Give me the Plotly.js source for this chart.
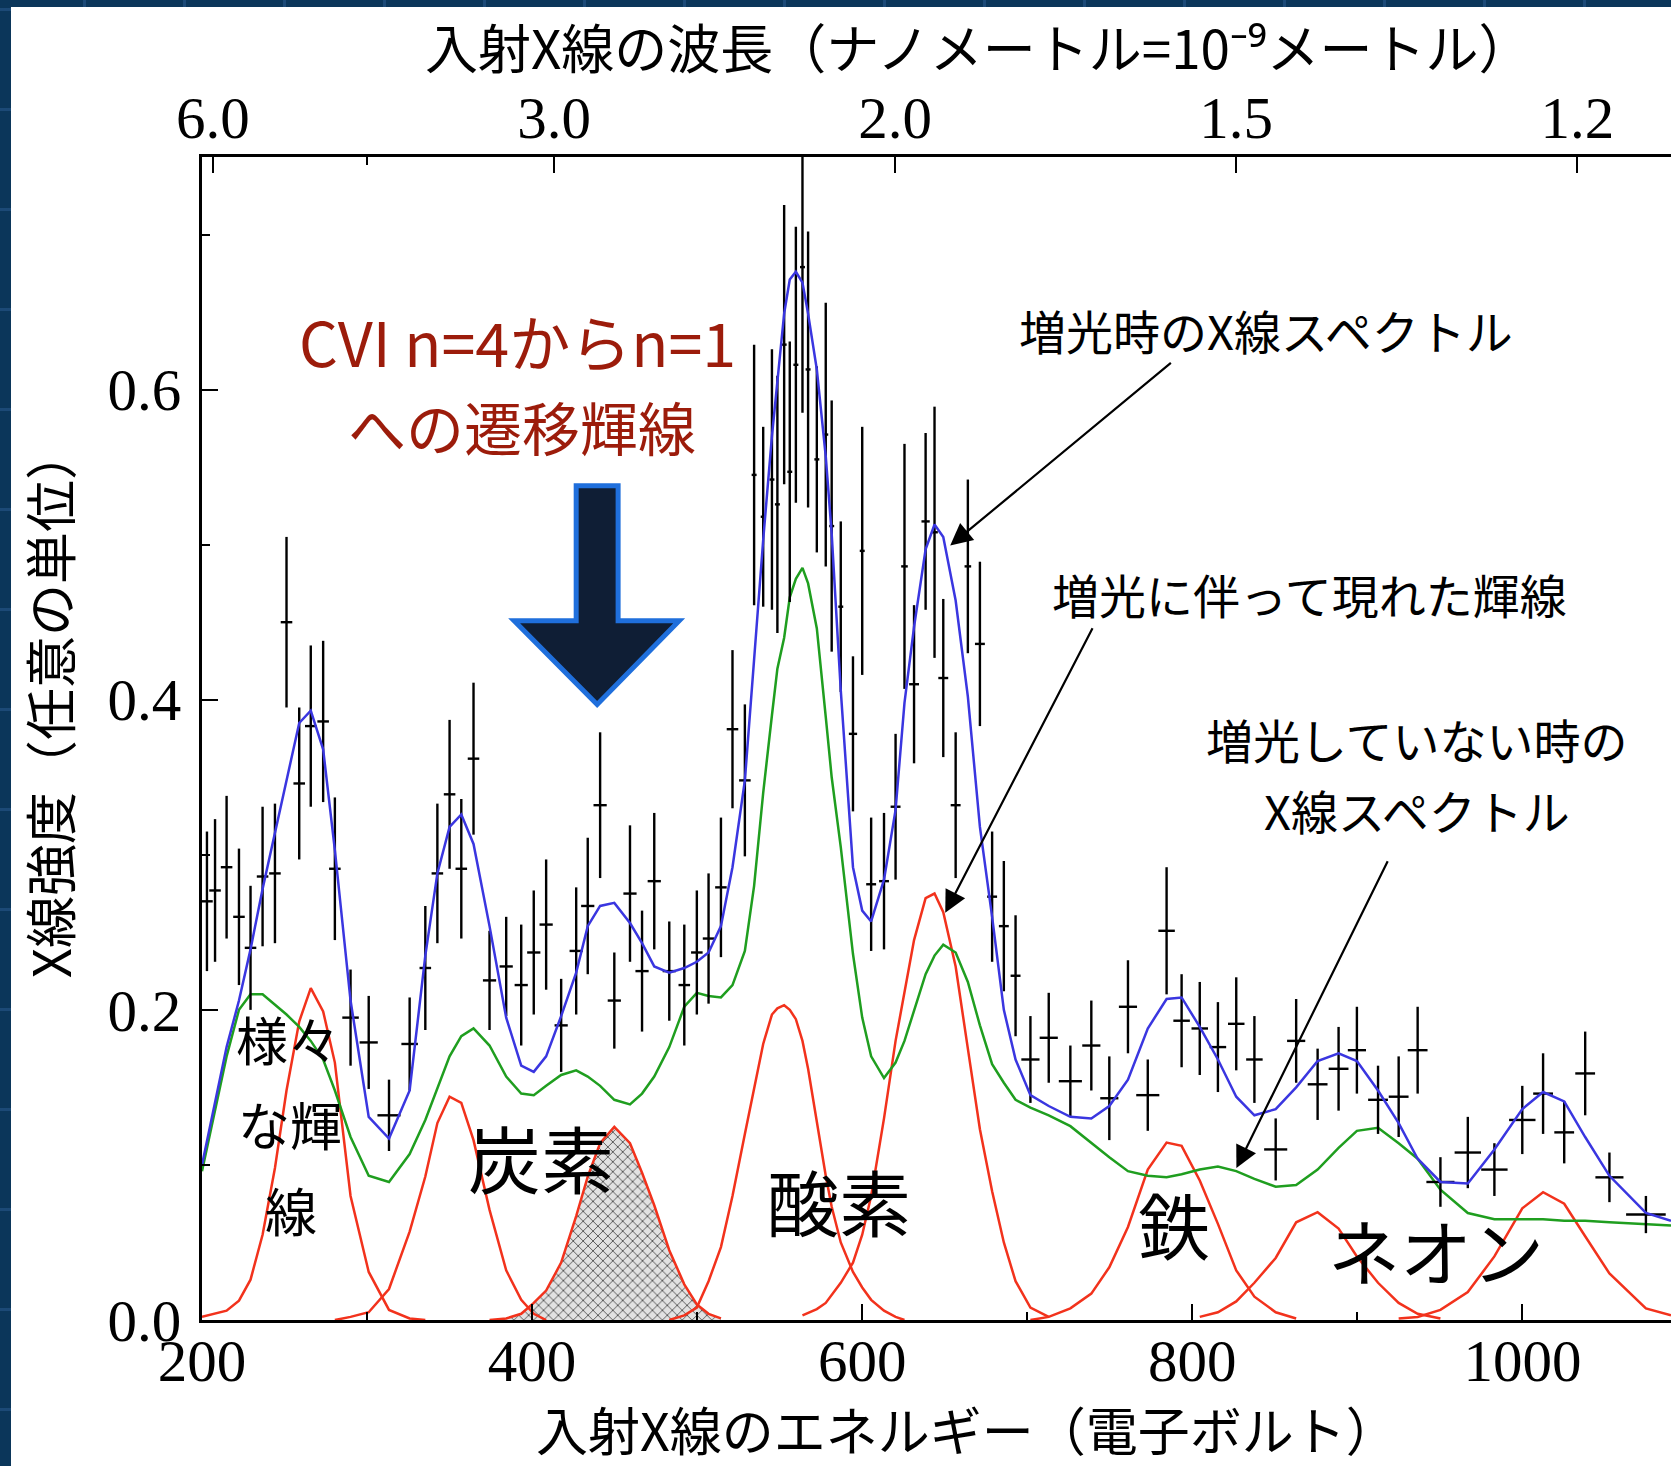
<!DOCTYPE html>
<html>
<head>
<meta charset="utf-8">
<script src="https://cdn.plot.ly/plotly-3.0.1.min.js"></script>
<style>
html,body{margin:0;padding:0;width:1671px;height:1466px;overflow:hidden;
  background-color:#0b365a;
  background-image:linear-gradient(to right, rgba(60,110,170,0.35) 3px, transparent 3px),
                   linear-gradient(to bottom, rgba(60,110,170,0.35) 3px, transparent 3px);
  background-size:100px 100px;background-position:83px 8px;}
#chart{position:absolute;left:11px;top:7px;width:1660px;height:1459px;background:#fff;}
</style>
</head>
<body>
<div id="chart"></div>
<script>
// ---------- observed flare spectrum (energy in eV, intensity arb. units) ----------
const dataE = [203.0,207.9,214.9,222.4,229.4,236.7,244.2,251.2,258.9,265.9,
  273.4,280.5,290.0,301.0,313.3,325.8,335.3,342.6,350.0,357.1,
  364.5,374.2,384.3,393.4,401.0,408.5,417.6,426.7,433.7,441.2,
  449.8,459.3,466.6,474.0,483.1,492.2,499.8,506.9,514.4,521.4,
  528.9,534.5,540.0,545.3,548.6,552.7,556.1,559.8,563.8,567.2,
  572.5,577.9,581.5,587.0,594.4,600.0,605.4,613.2,620.2,625.6,
  631.4,638.4,643.8,649.1,656.6,664.0,671.3,678.7,685.8,692.9,
  701.9,713.0,726.1,738.8,749.7,761.0,773.0,784.4,793.5,804.5,
  815.5,826.6,837.6,850.5,862.9,875.9,888.6,899.7,912.5,925.0,
  936.5,950.3,966.9,983.0,999.9,1012.5,1025.3,1038.0,1052.7,1074.8];
const dataY = [0.270,0.277,0.292,0.260,0.240,0.286,0.288,0.450,0.346,0.383,
  0.386,0.291,0.195,0.179,0.132,0.178,0.227,0.288,0.339,0.291,
  0.362,0.219,0.228,0.216,0.237,0.255,0.190,0.238,0.267,0.332,
  0.206,0.275,0.225,0.283,0.225,0.216,0.237,0.246,0.279,0.381,
  0.348,0.545,0.518,0.542,0.526,0.629,0.547,0.616,0.679,0.613,
  0.555,0.571,0.512,0.460,0.378,0.496,0.281,0.283,0.331,0.486,
  0.410,0.515,0.508,0.414,0.332,0.486,0.436,0.273,0.254,0.222,
  0.168,0.182,0.154,0.177,0.143,0.202,0.145,0.251,0.193,0.188,
  0.176,0.191,0.168,0.110,0.180,0.152,0.162,0.174,0.142,0.144,
  0.174,0.089,0.108,0.097,0.129,0.146,0.121,0.159,0.092,0.068];
const dataErr = [0.045,0.046,0.046,0.044,0.040,0.045,0.045,0.055,0.049,0.052,
  0.052,0.046,0.031,0.030,0.023,0.030,0.040,0.045,0.048,0.045,
  0.049,0.032,0.032,0.039,0.040,0.042,0.030,0.041,0.044,0.047,
  0.031,0.044,0.039,0.044,0.032,0.039,0.040,0.042,0.045,0.051,
  0.049,0.084,0.058,0.084,0.083,0.090,0.084,0.089,0.094,0.089,
  0.060,0.085,0.081,0.055,0.050,0.080,0.043,0.044,0.047,0.079,
  0.051,0.057,0.081,0.051,0.047,0.056,0.053,0.042,0.042,0.039,
  0.028,0.029,0.023,0.029,0.027,0.030,0.023,0.041,0.030,0.030,
  0.029,0.030,0.028,0.020,0.027,0.023,0.027,0.028,0.022,0.026,
  0.028,0.016,0.023,0.017,0.022,0.026,0.020,0.027,0.016,0.012];
const binHalf = [3.5,3.5,3.5,3.5,3.5,3.5,3.5,3.5,3.5,3.5,
  3.5,3.5,5,5.5,7,5,3.5,3.5,3.5,3.5,
  3.5,4,4,4,4,4,4,4,4,4,
  4,4,4,4,4,3.5,3.5,3.5,3.5,3.5,
  3.5,1.5,1.5,1.5,1.5,1.5,1.5,1.5,1.5,1.5,
  1.5,1.5,1.5,1.5,2.5,1.5,3,3,3,2,
  3,2.5,2,3,3,2,3,3,3,3,
  5.5,5.5,7,5.5,5.5,5.5,7,5,5,5,
  5,5,5,7,5.5,6,6,5.5,6,6,
  6,8.5,8,8,8,6,6,6,8.5,12];

// ---------- model curves ----------
const modelE = [200,207.9,214.9,222.4,229.4,236.7,244.2,251.2,258.9,265.9,
  273.4,280.5,290.0,301.0,313.3,325.8,335.3,342.6,350.0,357.1,
  364.5,374.2,384.3,393.4,401.0,408.5,417.6,426.7,433.7,441.2,
  449.8,459.3,466.6,474.0,483.1,492.2,499.8,506.9,514.4,521.4,
  528.9,534.5,540.0,545.3,548.6,552.7,556.1,559.8,563.8,567.2,
  572.5,577.9,581.5,587.0,594.4,600.0,605.4,613.2,620.2,625.6,
  631.4,638.4,643.8,649.1,656.6,664.0,671.3,678.7,685.8,692.9,
  701.9,713.0,726.1,738.8,749.7,761.0,773.0,784.4,793.5,804.5,
  815.5,826.6,837.6,850.5,862.9,875.9,888.6,899.7,912.5,925.0,
  936.5,950.3,966.9,983.0,999.9,1012.5,1025.3,1038.0,1052.7,1074.8,1090];
// flare-time total model (blue)
const flareModel = [0.100,0.140,0.176,0.206,0.239,0.278,0.314,0.348,0.385,0.393,
  0.368,0.303,0.206,0.131,0.117,0.148,0.235,0.288,0.318,0.326,
  0.307,0.254,0.195,0.164,0.160,0.170,0.196,0.224,0.254,0.267,
  0.269,0.256,0.243,0.228,0.224,0.227,0.231,0.237,0.254,0.292,
  0.348,0.426,0.503,0.570,0.605,0.649,0.671,0.676,0.669,0.649,
  0.613,0.557,0.507,0.406,0.292,0.264,0.257,0.284,0.329,0.398,
  0.447,0.497,0.513,0.505,0.464,0.402,0.318,0.260,0.200,0.168,
  0.145,0.138,0.131,0.130,0.138,0.155,0.188,0.207,0.208,0.189,
  0.168,0.144,0.132,0.136,0.150,0.167,0.172,0.167,0.148,0.127,
  0.104,0.089,0.088,0.110,0.136,0.147,0.141,0.118,0.093,0.069,0.064];
// quiescent model (green)
const quietModel = [0.096,0.135,0.170,0.200,0.210,0.210,0.203,0.197,0.189,0.180,
  0.168,0.148,0.118,0.093,0.089,0.107,0.129,0.150,0.170,0.183,
  0.188,0.177,0.157,0.146,0.145,0.151,0.158,0.161,0.157,0.151,
  0.142,0.139,0.146,0.157,0.176,0.202,0.211,0.209,0.208,0.216,
  0.238,0.280,0.340,0.390,0.420,0.440,0.466,0.478,0.485,0.475,
  0.446,0.389,0.350,0.305,0.236,0.195,0.170,0.156,0.166,0.180,
  0.200,0.223,0.235,0.242,0.237,0.218,0.190,0.165,0.153,0.142,
  0.137,0.132,0.125,0.114,0.105,0.096,0.093,0.092,0.094,0.097,
  0.099,0.096,0.091,0.086,0.087,0.097,0.111,0.122,0.124,0.114,
  0.104,0.084,0.069,0.065,0.065,0.065,0.064,0.064,0.063,0.062,0.061];

// individual emission-line components (red)
const lineVariousE = [200,207.9,214.9,222.4,229.4,236.7,244.2,251.2,258.9,265.9,273.4,280.5,290.0,301.0,313.3,325.8,335.3];
const lineVariousY = [0.002,0.004,0.006,0.0125,0.026,0.055,0.098,0.148,0.1925,0.214,0.199,0.166,0.080,0.031,0.0065,0.001,0.0];
const lineB_E = [280.5,290.0,301.0,313.3,325.8,335.3,342.6,350.0,357.1,364.5,374.2,384.3,393.4,401.0,408.5];
const lineB_Y = [0.0,0.002,0.005,0.020,0.057,0.0925,0.127,0.144,0.140,0.116,0.071,0.032,0.013,0.004,0.0];
const lineCarbonE = [374.2,384.3,393.4,401.0,408.5,417.6,426.7,433.7,441.2,449.8,459.3,466.6,474.0,483.1,492.2,499.8,506.9,514.4];
const lineCarbonY = [0.0,0.001,0.004,0.011,0.019,0.037,0.067,0.0925,0.114,0.1245,0.114,0.095,0.074,0.045,0.023,0.010,0.004,0.001];
const lineOxygenE = [483.1,492.2,499.8,506.9,514.4,521.4,528.9,534.5,540.0,545.3,548.6,552.7,556.1,559.8,563.8,567.2,572.5,577.9,581.5,587.0,594.4,600.0,605.4,613.2,620.2,625.6];
const lineOxygenY = [0.0,0.003,0.008,0.025,0.047,0.080,0.120,0.150,0.178,0.197,0.201,0.203,0.200,0.194,0.180,0.162,0.128,0.093,0.073,0.050,0.031,0.021,0.013,0.006,0.002,0.0];
const lineFlareE = [563.8,572.5,577.9,581.5,587.0,594.4,600.0,605.4,613.2,620.2,625.6,631.4,638.4,643.8,649.1,656.6,664.0,671.3,678.7,685.8,692.9,701.9,713.0];
const lineFlareY = [0.003,0.007,0.011,0.016,0.024,0.037,0.055,0.080,0.130,0.180,0.212,0.245,0.272,0.275,0.263,0.228,0.175,0.123,0.083,0.050,0.025,0.008,0.002];
const lineIronE = [701.9,713.0,726.1,738.8,749.7,761.0,773.0,784.4,793.5,804.5,815.5,826.6,837.6,850.5,862.9];
const lineIronY = [0.0,0.002,0.0075,0.017,0.034,0.060,0.097,0.1144,0.1123,0.090,0.062,0.032,0.015,0.005,0.001];
const lineNeon1E = [804.5,815.5,826.6,837.6,850.5,862.9,875.9,888.6,899.7,912.5,925.0,936.5,950.3];
const lineNeon1Y = [0.002,0.005,0.012,0.024,0.040,0.063,0.0695,0.059,0.041,0.024,0.011,0.004,0.001];
const lineNeon2E = [925.0,936.5,950.3,966.9,983.0,999.9,1012.5,1025.3,1038.0,1052.7,1074.8,1090];
const lineNeon2Y = [0.001,0.002,0.0065,0.018,0.041,0.072,0.0824,0.075,0.054,0.030,0.0075,0.003];

// ---------- axes ----------
const xTicks = [200,400,600,800,1000];
const xMinor = [300,500,700,900];
const yTicks = [0,0.2,0.4,0.6];
const yTickText = ['0.0','0.2','0.4','0.6'];
const yMinor = [0.1,0.3,0.5,0.7];
const waveLabels = ['6.0','3.0','2.0','1.5','1.2'];   // nm
const HC = 1239.84; // eV*nm, converts wavelength tick labels to energy positions
const waveTickPos = waveLabels.map(s => HC / parseFloat(s));
const waveMinorE = [300];   // unlabelled minor tick on the top axis (as in the source figure)

const xTitle = '入射X線のエネルギー（電子ボルト）';
const topTitle = '入射X線の波長（ナノメートル=10⁻⁹メートル）';
const yTitle = 'X線強度（任意の単位）';

const RED = '#f2321c', GREEN = '#1f9e1f', BLUE = '#3a36e0';
const JP = '"Noto Sans CJK JP", "Noto Sans", sans-serif';
const SERIF = '"Liberation Serif", "DejaVu Serif", serif';

function redLine(x, y, extra) {
  return Object.assign({x: x, y: y, type: 'scatter', mode: 'lines',
    line: {color: RED, width: 2.5}, hoverinfo: 'skip', showlegend: false}, extra || {});
}

const traces = [
  redLine(lineCarbonE, lineCarbonY, {fill: 'tozeroy',
    fillpattern: {shape: 'x', fgcolor: '#555555', bgcolor: '#e2e2e2', size: 7, solidity: 0.25}}),
  redLine(lineVariousE, lineVariousY),
  redLine(lineB_E, lineB_Y),
  redLine(lineOxygenE, lineOxygenY),
  redLine(lineFlareE, lineFlareY),
  redLine(lineIronE, lineIronY),
  redLine(lineNeon1E, lineNeon1Y),
  redLine(lineNeon2E, lineNeon2Y),
  {x: modelE, y: quietModel, type: 'scatter', mode: 'lines',
   line: {color: GREEN, width: 2.5}, showlegend: false, hoverinfo: 'skip'},
  {x: dataE, y: dataY, type: 'scatter', mode: 'markers',
   marker: {size: 1, color: 'rgba(0,0,0,0)'},
   error_y: {type: 'data', array: dataErr, visible: true, color: '#000', thickness: 2.4, width: 0},
   error_x: {type: 'data', array: binHalf, visible: true, color: '#000', thickness: 2.4, width: 0},
   showlegend: false},
  {x: modelE, y: flareModel, type: 'scatter', mode: 'lines',
   line: {color: BLUE, width: 2.5}, showlegend: false, hoverinfo: 'skip'},
  // same spectrum attached to the wavelength (top) axis so that axis is drawn; invisible
  {x: dataE, y: dataY, xaxis: 'x2', yaxis: 'y', type: 'scatter', mode: 'markers',
   marker: {size: 1, color: 'rgba(0,0,0,0)'}, showlegend: false, hoverinfo: 'skip'}
];

// arrow glyph (decorative) in data coordinates
const bigArrow = {x0: 426.7, x1: 452.1, xl: 389.1, xr: 489.1, ytop: 0.538, ywing: 0.451, ytip: 0.397};
const arrowPath = 'M ' + bigArrow.x0 + ',' + bigArrow.ytop + ' L ' + bigArrow.x1 + ',' + bigArrow.ytop +
  ' L ' + bigArrow.x1 + ',' + bigArrow.ywing + ' L ' + bigArrow.xr + ',' + bigArrow.ywing +
  ' L ' + ((bigArrow.x0 + bigArrow.x1) / 2) + ',' + bigArrow.ytip + ' L ' + bigArrow.xl + ',' + bigArrow.ywing +
  ' L ' + bigArrow.x0 + ',' + bigArrow.ywing + ' Z';

function label(text, x, y, size, color) {
  return {text: text, x: x, y: y, xref: 'x', yref: 'y', showarrow: false,
    xanchor: 'center', yanchor: 'middle',
    font: {family: JP, size: size, color: color || '#000'}};
}
function paperLabel(text, x, y, size, angle) {
  return {text: text, x: x, y: y, xref: 'paper', yref: 'paper', showarrow: false,
    xanchor: 'center', yanchor: 'middle', textangle: angle || 0, borderpad: 0,
    font: {family: JP, size: size, color: '#000'}};
}
function pointer(x, y, ax, ay) {
  return {text: '', x: x, y: y, ax: ax, ay: ay, xref: 'x', yref: 'y', axref: 'x', ayref: 'y',
    showarrow: true, arrowhead: 2, arrowsize: 2.0, arrowwidth: 2.2, arrowcolor: '#000'};
}

const annotations = [
  // axis titles
  paperLabel(xTitle, 0.5207, -0.0933, 52),
  paperLabel(topTitle, 0.5285, 1.0955, 53),
  paperLabel(yTitle, -0.1046, 0.5309, 52, -90),
  // callouts
  label('CVI n=4からn=1', 390.9, 0.6316, 61, '#9c1c0b'),
  label('への遷移輝線', 393.9, 0.5768, 58, '#9c1c0b'),
  label('増光時のX線スペクトル', 844.8, 0.6387, 47),
  label('増光に伴って現れた輝線', 870.9, 0.4684, 47),
  label('増光していない時の', 936.4, 0.3748, 47),
  label('X線スペクトル', 936.4, 0.3290, 47),
  label('様々', 252.1, 0.1813, 52),
  label('な輝', 253.6, 0.1265, 52),
  label('線', 254.0, 0.0710, 52),
  label('炭素', 405.5, 0.1058, 73),
  label('酸素', 585.8, 0.0774, 72),
  label('鉄', 789.1, 0.0632, 72),
  label('ネオン', 947.9, 0.0458, 72),
  pointer(653.3, 0.4994, 787.9, 0.6180),
  pointer(650.3, 0.2626, 740.0, 0.4471),
  pointer(826.7, 0.0980, 918.8, 0.2968)
];

const axisCommon = {showline: true, linecolor: '#000', linewidth: 3, ticks: 'inside',
  tickcolor: '#000', tickwidth: 2, ticklen: 16, showgrid: false, zeroline: false,
  tickfont: {family: SERIF, size: 59, color: '#000'}};

const layout = {
  width: 1660, height: 1459,
  margin: {l: 191, r: 0, t: 150, b: 146},
  paper_bgcolor: '#ffffff', plot_bgcolor: '#ffffff',
  font: {family: JP, color: '#000'},
  showlegend: false,
  xaxis: Object.assign({}, axisCommon, {
    range: [200, 1090], tickmode: 'array', tickvals: xTicks,
    ticktext: xTicks.map(String),
    minor: {tickmode: 'array', tickvals: xMinor, ticklen: 8, tickwidth: 2, tickcolor: '#000', ticks: 'inside', showgrid: false},
    ticklabelstandoff: -13
  }),
  xaxis2: Object.assign({}, axisCommon, {
    overlaying: 'x', side: 'top', anchor: 'y', range: [200, 1090],
    tickmode: 'array', tickvals: waveTickPos, ticktext: waveLabels,
    minor: {tickmode: 'array', tickvals: waveMinorE, ticklen: 8, tickwidth: 2, tickcolor: '#000', ticks: 'inside', showgrid: false},
    ticklabelstandoff: -8
  }),
  yaxis: Object.assign({}, axisCommon, {
    range: [0, 0.75], tickmode: 'array', tickvals: yTicks, ticktext: yTickText,
    minor: {tickmode: 'array', tickvals: yMinor, ticklen: 8, tickwidth: 2, tickcolor: '#000', ticks: 'inside', showgrid: false},
    ticklabelstandoff: 6
  }),
  shapes: [{type: 'path', xref: 'x', yref: 'y', path: arrowPath,
    fillcolor: '#0f1e35', line: {color: '#1f6fdc', width: 5}, layer: 'above'}],
  annotations: annotations
};

Plotly.newPlot('chart', traces, layout, {displayModeBar: false, staticPlot: true});
</script>
</body>
</html>
